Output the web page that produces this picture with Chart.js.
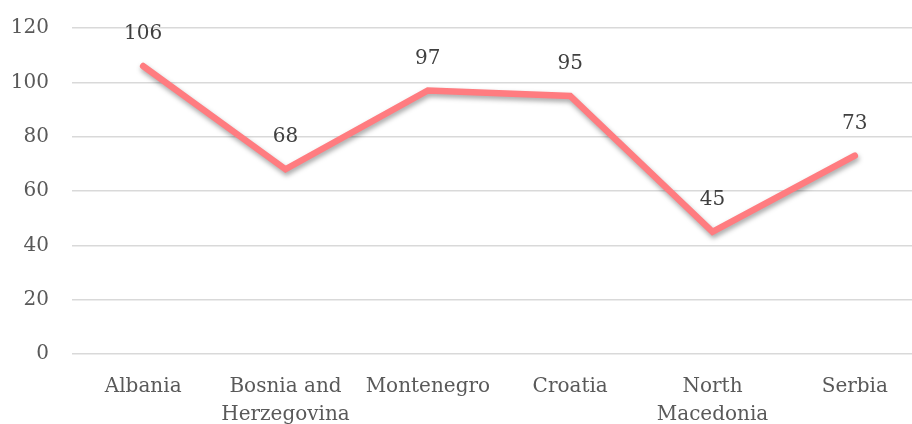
<!DOCTYPE html>
<html>
<head>
<meta charset="utf-8">
<script src="https://cdn.jsdelivr.net/npm/chart.js@4/dist/chart.umd.min.js"></script>
<style>
  html, body { margin: 0; padding: 0; background: #fff; overflow: hidden; }
  #wrap { width: 930px; height: 424px; position: relative; }
</style>
</head>
<body>
<div id="wrap"><canvas id="chart"></canvas></div>
<script>
// data
const categories = ['Albania', ['Bosnia and', 'Herzegovina'], 'Montenegro', 'Croatia', ['North', 'Macedonia'], 'Serbia'];
const values = [106, 68, 97, 95, 45, 73];
const yTicks = [0, 20, 40, 60, 80, 100, 120];

const textColor = '#595959';
Chart.defaults.font.family = "'DejaVu Serif', serif";
Chart.defaults.font.size = 20;
Chart.defaults.color = textColor;

// soft drop shadow under the line
const lineShadow = {
    id: 'lineShadow',
    beforeDatasetDraw(chart) {
        const ctx = chart.ctx;
        ctx.save();
        ctx.shadowColor = 'rgba(0,0,0,0.35)';
        ctx.shadowBlur = 5;
        ctx.shadowOffsetX = 1;
        ctx.shadowOffsetY = 3;
    },
    afterDatasetDraw(chart) {
        chart.ctx.restore();
    }
};

// value labels above each point
const valueLabels = {
    id: 'valueLabels',
    afterDatasetsDraw(chart) {
        const ctx = chart.ctx;
        const meta = chart.getDatasetMeta(0);
        ctx.save();
        ctx.font = "20px 'DejaVu Serif', serif";
        ctx.fillStyle = '#404040';
        ctx.textAlign = 'center';
        ctx.textBaseline = 'middle';
        meta.data.forEach((pt, i) => {
            ctx.fillText(String(values[i]), pt.x, pt.y - 32);
        });
        ctx.restore();
    }
};

new Chart(document.getElementById('chart'), {
    type: 'line',
    data: {
        labels: categories,
        datasets: [{
            data: values,
            borderColor: '#FF7C80',
            borderWidth: 6.5,
            borderCapStyle: 'round',
            borderJoinStyle: 'miter',
            pointRadius: 0,
            tension: 0
        }]
    },
    options: {
        responsive: true,
        maintainAspectRatio: false,
        animation: false,
        layout: { padding: { top: 28, right: 4, bottom: 0, left: 0 } },
        plugins: { legend: { display: false }, tooltip: { enabled: false } },
        scales: {
            x: {
                offset: true,
                grid: { display: false, offset: true },
                border: { display: false },
                ticks: { maxRotation: 0, minRotation: 0, autoSkip: false, padding: 11, font: { lineHeight: 1.4 } },
                afterFit(axis) { axis.height = 70; }
            },
            y: {
                min: 0, max: 120,
                afterBuildTicks(axis) { axis.ticks = yTicks.map(v => ({ value: v })); },
                grid: { color: '#D9D9D9', lineWidth: 1.5, drawTicks: false },
                border: { display: false },
                ticks: { padding: 23 },
                afterFit(axis) {
                    axis.width = 72;
                    axis.paddingTop = 0;
                    axis.paddingBottom = 0;
                }
            }
        }
    },
    plugins: [lineShadow, valueLabels]
});
</script>
</body>
</html>
